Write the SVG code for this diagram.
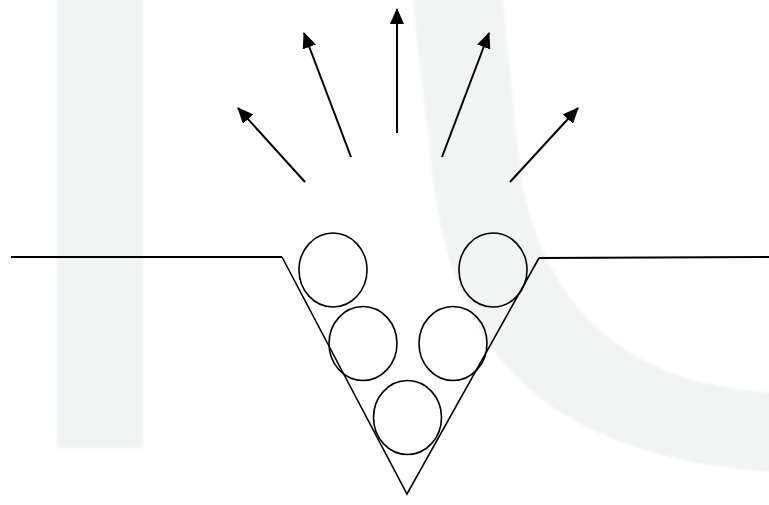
<svg xmlns="http://www.w3.org/2000/svg" width="769" height="505" viewBox="0 0 769 505">
  <style>
    .wm { fill: #f2f3f3; }
    .ground { fill: none; stroke: #000; stroke-width: 1.6; stroke-linejoin: miter; }
    .baseline { fill: none; stroke: #000; stroke-width: 2; }
    .ball { fill: none; stroke: #000; stroke-width: 1.6; }
    .arrow { fill: none; stroke: #000; stroke-width: 2; marker-end: url(#head); }
  </style>
  <defs>
    <marker id="head" markerUnits="userSpaceOnUse" markerWidth="16" markerHeight="14" refX="15" refY="7" orient="auto">
      <path d="M0,0 L16,7 L0,14 Z" fill="#000"/>
    </marker>
    <filter id="soft" x="-5%" y="-5%" width="110%" height="110%">
      <feGaussianBlur stdDeviation="1.2"/>
    </filter>
  </defs>
  <rect width="769" height="505" fill="#fff"/>
  <g id="watermark" filter="url(#soft)">
    <rect class="wm" x="57" y="-5" width="86" height="453"/>
    <path class="wm" d="M412,-5 L432,170 C450,330 520,455 775,472 L775,393 C620,385 540,300 520,170 L502,-5 Z"/>
  </g>
  <g id="trench">
    <path class="ground" d="M282,257 L407,494 L539,258"/>
    <path class="baseline" d="M11,257 L282,257"/>
    <path class="baseline" d="M539,258 L769,257"/>
  </g>
  <g id="ball-top-left"><ellipse class="ball" cx="333" cy="270" rx="34" ry="37"/></g>
  <g id="ball-top-right"><ellipse class="ball" cx="493" cy="270" rx="34" ry="37"/></g>
  <g id="ball-mid-left"><ellipse class="ball" cx="363" cy="343.5" rx="34" ry="37"/></g>
  <g id="ball-mid-right"><ellipse class="ball" cx="453" cy="343.5" rx="34" ry="37"/></g>
  <g id="ball-bottom"><ellipse class="ball" cx="407.5" cy="417.5" rx="34" ry="37"/></g>
  <g id="connectors">
    <line class="arrow" x1="305" y1="182" x2="238" y2="108"/>
    <line class="arrow" x1="351" y1="157" x2="304" y2="33"/>
    <line class="arrow" x1="397" y1="133" x2="397" y2="9"/>
    <line class="arrow" x1="442" y1="157" x2="489" y2="33"/>
    <line class="arrow" x1="510" y1="182" x2="578" y2="108"/>
  </g>
</svg>
